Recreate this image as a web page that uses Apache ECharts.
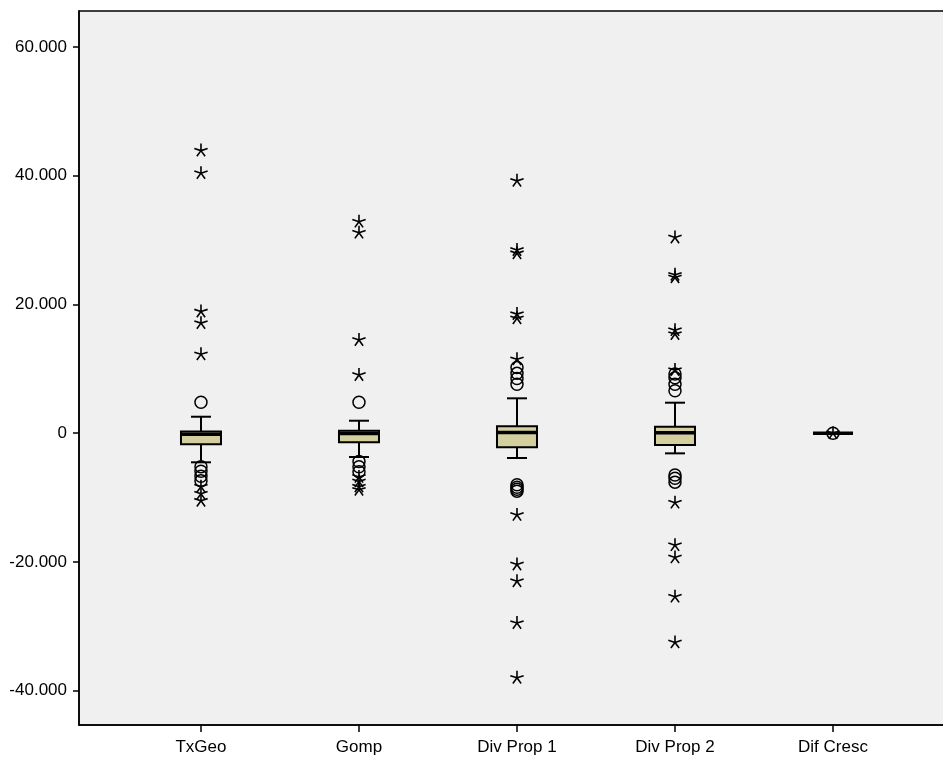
<!DOCTYPE html>
<html>
<head>
<meta charset="utf-8">
<script src="https://cdn.jsdelivr.net/npm/echarts@6/dist/echarts.min.js"></script>
<style>
  html, body { margin: 0; padding: 0; background: #fff; }
  #chart { width: 943px; height: 758px; }
</style>
</head>
<body>
<div id="chart"></div>
<script>
const categories = ['TxGeo', 'Gomp', 'Div Prop 1', 'Div Prop 2', 'Dif Cresc'];

// [lower whisker, Q1, median, Q3, upper whisker]
const boxStats = [
  [-4520, -1720, -150, 250, 2560],
  [-3700, -1420, -50, 390, 1940],
  [-3850, -2190, 100, 1070, 5420],
  [-3130, -1830, 60, 1000, 4740],
  [0, 0, 0, 0, 0]
];

// outliers (circles)
const outliers = [
  [4800, -5200, -5900, -6700, -7400],
  [4800, -4400, -5200, -6000],
  [10200, 9300, 8500, 7600, -8000, -8400, -8700, -9000],
  [9200, 8600, 7600, 6600, -6500, -7000, -7600],
  [0]
];

// extreme values (stars)
const extremes = [
  [43900, 40400, 18900, 17100, 12250, -8300, -9400, -10500],
  [32860, 31150, 14480, 9040, -6800, -7500, -8300, -8800],
  [39200, 28460, 27950, 18500, 17850, 11480, -12700, -20400, -23000, -29500, -38000],
  [30400, 24600, 24200, 16000, 15400, 9800, -10800, -17400, -19300, -25400, -32500],
  [0]
];

const yTicks = [-40000, -20000, 0, 20000, 40000, 60000];
const xTicks = [0, 1, 2, 3, 4];

function fmt(v) {
  if (v === 0) return '0';
  const s = Math.abs(v).toString().replace(/\B(?=(\d{3})+(?!\d))/g, '.');
  return (v < 0 ? '-' : '') + s;
}

const toPoints = (groups) => groups.flatMap((vals, i) => vals.map(v => [i, v]));

const starPath = 'path://M50 50L50 0M50 50L97.55 34.55M50 50L79.39 90.45M50 50L20.61 90.45M50 50L2.45 34.55M0 0L0 0M100 100L100 100';

const chart = echarts.init(document.getElementById('chart'), null, { renderer: 'canvas' });

const labelFont = { color: '#000', fontSize: 17, fontFamily: 'Liberation Sans, Arial, sans-serif' };

chart.setOption({
  animation: false,
  backgroundColor: '#fff',
  grid: {
    left: 79, top: 11, width: 880.4, height: 714,
    show: true, backgroundColor: '#f0f0f0', borderColor: '#000', borderWidth: 1.5,
    outerBoundsMode: 'none'
  },
  xAxis: {
    type: 'value',
    min: -0.772, max: 4.8,
    axisLine: { show: true, onZero: false, lineStyle: { color: '#000', width: 1.5 } },
    axisTick: { show: true, customValues: xTicks, length: 7, lineStyle: { color: '#000', width: 1.5 } },
    axisLabel: Object.assign({ customValues: xTicks, margin: 14, formatter: v => categories[Math.round(v)] }, labelFont),
    splitLine: { show: false }
  },
  yAxis: {
    type: 'value',
    min: -45330, max: 65590,
    axisLine: { show: true, onZero: false, lineStyle: { color: '#000', width: 1.5 } },
    axisTick: { show: true, customValues: yTicks, length: 6, lineStyle: { color: '#000', width: 1.5 } },
    axisLabel: Object.assign({ customValues: yTicks, margin: 12, formatter: fmt }, labelFont),
    splitLine: { show: false }
  },
  series: [
    {
      type: 'custom',
      data: boxStats.map((s, i) => [i].concat(s)),
      encode: { x: 0, y: [1, 2, 3, 4, 5] },
      renderItem: function (params, api) {
        const x = api.value(0);
        const p = [1, 2, 3, 4, 5].map(k => api.coord([x, api.value(k)]));
        const cx = p[0][0];
        const yMin = p[0][1], yQ1 = p[1][1], yMed = p[2][1], yQ3 = p[3][1], yMax = p[4][1];
        const hw = 20, cw = 10;
        const line = (x1, y1, x2, y2, w) => ({
          type: 'line', shape: { x1, y1, x2, y2 }, style: { stroke: '#000', lineWidth: w }
        });
        return {
          type: 'group',
          children: [
            line(cx, yMax, cx, yQ3, 2),
            line(cx, yQ1, cx, yMin, 2),
            line(cx - cw, yMax, cx + cw, yMax, 2),
            line(cx - cw, yMin, cx + cw, yMin, 2),
            { type: 'rect', shape: { x: cx - hw, y: yQ3, width: 2 * hw, height: yQ1 - yQ3 },
              style: { fill: '#d3cf9f', stroke: '#000', lineWidth: 2 } },
            line(cx - hw, yMed, cx + hw, yMed, 3.5)
          ]
        };
      },
      z: 2
    },
    {
      type: 'scatter',
      data: toPoints(outliers),
      symbol: 'circle',
      symbolSize: 12,
      itemStyle: { color: 'transparent', borderColor: '#000', borderWidth: 1.5, opacity: 1 },
      z: 3
    },
    {
      type: 'scatter',
      data: toPoints(extremes),
      symbol: starPath,
      symbolSize: 14,
      itemStyle: { color: 'transparent', borderColor: '#000', borderWidth: 1.6, opacity: 1 },
      z: 4
    }
  ]
});
</script>
</body>
</html>
